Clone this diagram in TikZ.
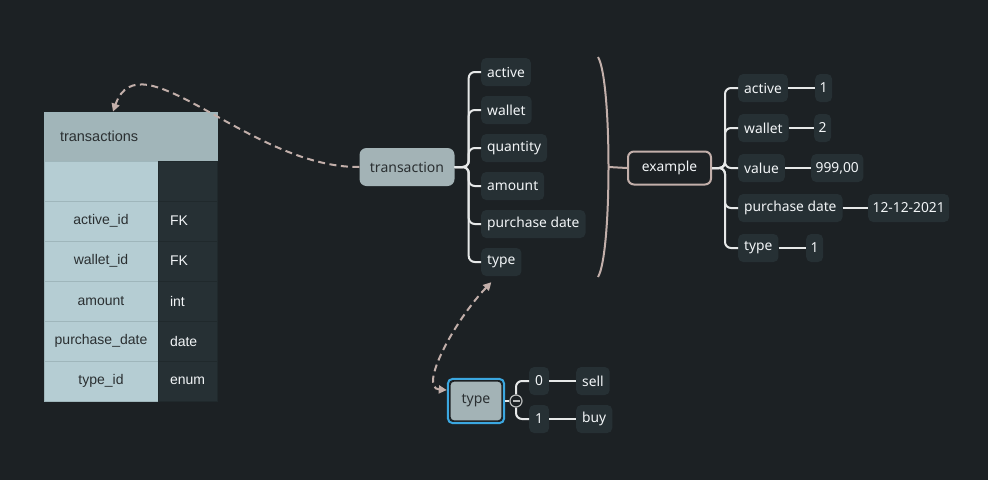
\documentclass[tikz,border=0pt]{standalone}
\usepackage{fontspec}
\setmainfont{Noto Sans}
\newfontfamily\tblfont{Liberation Sans}
\usepackage{xcolor}
\usetikzlibrary{arrows.meta, fit, positioning}

\definecolor{bgdark}{HTML}{1C2124}
\definecolor{cellbg}{HTML}{263034}
\definecolor{cellln}{HTML}{20292C}
\definecolor{keybg}{HTML}{B5CDD3}
\definecolor{keyln}{HTML}{9FB6BB}
\definecolor{headbg}{HTML}{A1B5B9}
\definecolor{topicbg}{HTML}{A3B3B6}
\definecolor{darktxt}{HTML}{2A2F31}
\definecolor{leaftxt}{HTML}{F2F5F7}
\definecolor{branchln}{HTML}{E6E8E8}
\definecolor{linkln}{HTML}{C2AFAA}
\definecolor{selblue}{HTML}{3BA7E0}

\begin{document}
\begin{tikzpicture}[
  x=1pt, y=-1pt,
  tblhead/.style  = {fill=headbg, draw=keyln, line width=0.8pt,
                     minimum height=49pt, text width=141pt, inner xsep=16pt,
                     align=left, text=darktxt,
                     font=\tblfont\fontsize{14.5}{16}\selectfont},
  tblkey/.style   = {fill=keybg, draw=keyln, line width=0.6pt,
                     minimum width=114pt, minimum height=40pt, text=darktxt,
                     font=\tblfont\fontsize{14}{16}\selectfont},
  tblval/.style   = {fill=cellbg, draw=cellln, line width=0.6pt,
                     minimum height=40pt, text width=35pt, inner xsep=12pt,
                     align=left, text=leaftxt,
                     font=\tblfont\fontsize{14}{16}\selectfont},
  topic/.style    = {fill=topicbg, rounded corners=7pt, text=darktxt,
                     font=\fontsize{14}{16}\selectfont},
  leaf/.style     = {fill=cellbg, rounded corners=5pt, text=leaftxt,
                     minimum height=28pt, inner xsep=6pt, anchor=west,
                     font=\fontsize{13.8}{16}\selectfont},
  valbox/.style   = {leaf, inner xsep=4.5pt},
  sumroot/.style  = {draw=linkln, fill=bgdark, line width=2pt,
                     rounded corners=6pt, text=leaftxt,
                     minimum width=83pt, minimum height=33pt,
                     font=\fontsize{13.8}{16}\selectfont},
  selframe/.style = {draw=selblue, line width=2pt, rounded corners=5pt,
                     inner sep=1.6pt},
  branch/.style   = {draw=branchln, line width=2pt, rounded corners=6pt},
  sumline/.style  = {draw=linkln, line width=2pt},
  relarrow/.style = {draw=linkln, line width=2pt,
                     dash pattern=on 7pt off 4.5pt},
  reltip/.tip     = {Triangle[length=8pt, width=8pt]},
]
\fill[bgdark] (0,0) rectangle (988,480);
\useasboundingbox (0,0) rectangle (988,480);

%% -- Table: transactions ----------------------------------------------------
\node[tblhead] (tblhead) at (130.5,136.5) {transactions};

\node[tblkey] (kempty)  at (101,181) {};
\node[tblval] (vempty)  at (187.5,181) {};
\node[tblkey] (kactive) at (101,221) {active\_id};
\node[tblval] (vactive) at (187.5,221) {FK};
\node[tblkey] (kwallet) at (101,261) {wallet\_id};
\node[tblval] (vwallet) at (187.5,261) {FK};
\node[tblkey] (kamount) at (101,301) {amount};
\node[tblval] (vamount) at (187.5,301) {int};
\node[tblkey] (kdate)   at (101,341) {purchase\_date};
\node[tblval] (vdate)   at (187.5,341) {date};
\node[tblkey] (ktype)   at (101,381) {type\_id};
\node[tblval] (vtype)   at (187.5,381) {enum};

%% -- Topic: transaction -----------------------------------------------------
\node[topic, minimum width=95pt, minimum height=38pt]
  (transaction) at (407,167) {transaction};

\node[leaf] (tactive) at (481,72)  {active};
\node[leaf] (twallet) at (481,110) {wallet};
\node[leaf] (tqty)    at (481,148) {quantity};
\node[leaf] (tamount) at (481,186) {amount};
\node[leaf] (tdate)   at (481,224) {purchase date};
\node[leaf] (ttype)   at (481,262) {type};

\foreach \n in {tactive, twallet, tqty, tamount, tdate, ttype}
  \draw[branch] (transaction.east) -- ++(14,0) |- (\n.west);

%% -- Summary bracket and example --------------------------------------------
\coordinate (sumtop) at (598,57);
\coordinate (sumbot) at (598,277);
\coordinate (summid) at (608.5,167);
\draw[sumline] (sumtop) .. controls (612,80) and (612,254) .. (sumbot);

\node[sumroot] (example) at (669.5,168) {example};
\draw[sumline] (summid) -- (example.west);

\node[leaf] (eactive) at (738,88)  {active};
\node[leaf] (ewallet) at (738,128) {wallet};
\node[leaf] (evalue)  at (738,168) {value};
\node[leaf] (edate)   at (738,208) {purchase date};
\node[leaf] (etype)   at (738,248) {type};

\node[valbox] (vaactive) at (815,88)  {1};
\node[valbox] (vawallet) at (814,128) {2};
\node[valbox] (vavalue)  at (811,168) {999,00};
\node[valbox] (vadate)   at (868,208) {12-12-2021};
\node[valbox] (vatype)   at (806,248) {1};

\foreach \n/\v in {eactive/vaactive, ewallet/vawallet, evalue/vavalue,
                   edate/vadate, etype/vatype} {
  \draw[branch] (example.east) -- ++(13,0) |- (\n.west);
  \draw[branch] (\n.east) -- (\v.west);
}

%% -- Topic: type --------------------------------------------------------------
\node[topic, rounded corners=4pt, minimum width=52pt, minimum height=40pt,
      draw=bgdark, line width=1.2pt] (typetopic) at (476,401) {type};
\node[selframe, fit=(typetopic)] (typeframe) {};

\node[circle, draw=branchln!80!black, fill=bgdark, line width=1.2pt,
      minimum size=12pt, inner sep=0pt,
      path picture={\draw[branchln!80!black, line width=1.2pt]
        ([xshift=2.5pt]path picture bounding box.west) --
        ([xshift=-2.5pt]path picture bounding box.east);}]
  (collapse) at (516,401) {};

\node[leaf] (zero) at (529,381) {0};
\node[leaf] (sell) at (576,381) {sell};
\node[leaf] (one)  at (529,419) {1};
\node[leaf] (buy)  at (576,419) {buy};

\draw[branch] (typeframe.east) -- (collapse.west);
\draw[branch] (collapse.north) |- (zero.west);
\draw[branch] (collapse.south) |- (one.west);
\draw[branch] (zero.east) -- (sell.west);
\draw[branch] (one.east) -- (buy.west);

%% -- Relationships ------------------------------------------------------------
\draw[relarrow, -reltip] (transaction.west)
  .. controls (250,168) and (140,35) .. ([xshift=-17.5pt]tblhead.north);
\draw[relarrow, reltip-reltip] ([xshift=-10pt, yshift=-6pt]ttype.south)
  .. controls (455,320) and (418,388) .. ([yshift=11pt]typeframe.west);

\end{tikzpicture}
\end{document}
